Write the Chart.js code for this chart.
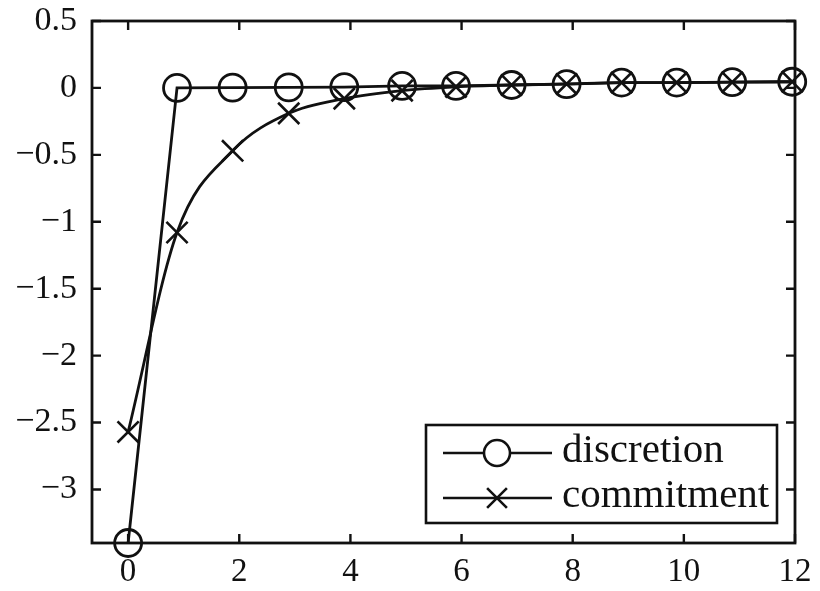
<!DOCTYPE html>
<html>
<head>
<meta charset="utf-8">
<script src="https://cdn.jsdelivr.net/npm/chart.js@4.4.1/dist/chart.umd.min.js"></script>
<style>
html,body{margin:0;padding:0;background:#fff;}
#wrap{width:820px;height:591px;position:relative;}
</style>
</head>
<body>
<div id="wrap"><canvas id="c" width="820" height="591"></canvas></div>
<script>
// ---- data ----
const periodsX = [0, 0.88, 1.88, 2.89, 3.89, 4.93, 5.9, 6.9, 7.89, 8.88, 9.87, 10.87, 11.95];
const discretion = [-3.4, 0.0, 0.002, 0.004, 0.006, 0.015, 0.015, 0.022, 0.028, 0.04, 0.04, 0.043, 0.046];
const commitment = [-2.57, -1.08, -0.47, -0.19, -0.08, -0.02, 0.008, 0.022, 0.03, 0.04, 0.04, 0.043, 0.046];
const xTicks = [0, 2, 4, 6, 8, 10, 12];
const yTicks = [0.5, 0, -0.5, -1, -1.5, -2, -2.5, -3];
const seriesNames = ['discretion', 'commitment'];

const INK = '#111111';
const SERIF = '"Liberation Serif", "DejaVu Serif", serif';

const toPts = (xs, ys) => xs.map((x, i) => ({x: x, y: ys[i]}));

const framePlugin = {
  id: 'frame',
  beforeDatasetsDraw(chart) {
    const {ctx, chartArea: a, scales} = chart;
    ctx.save();
    ctx.strokeStyle = INK;
    ctx.lineWidth = 2.8;
    ctx.strokeRect(a.left, a.top, a.right - a.left, a.bottom - a.top);
    const tl = 9;
    ctx.lineWidth = 2.4;
    ctx.beginPath();
    xTicks.forEach(v => {
      const px = scales.x.getPixelForValue(v);
      ctx.moveTo(px, a.bottom); ctx.lineTo(px, a.bottom - tl);
      ctx.moveTo(px, a.top); ctx.lineTo(px, a.top + tl);
    });
    yTicks.forEach(v => {
      const py = scales.y.getPixelForValue(v);
      ctx.moveTo(a.left, py); ctx.lineTo(a.left + tl, py);
      ctx.moveTo(a.right, py); ctx.lineTo(a.right - tl, py);
    });
    ctx.stroke();
    ctx.restore();
  }
};

const legendPlugin = {
  id: 'boxLegend',
  afterDatasetsDraw(chart) {
    const ctx = chart.ctx;
    const L = 426, T = 425, R = 777, B = 523;
    ctx.save();
    ctx.fillStyle = '#fff';
    ctx.fillRect(L, T, R - L, B - T);
    ctx.strokeStyle = INK;
    ctx.lineWidth = 2.6;
    ctx.strokeRect(L, T, R - L, B - T);
    const rows = [453, 498];
    chart.data.datasets.forEach((ds, i) => {
      const y = rows[i];
      ctx.strokeStyle = INK;
      ctx.lineWidth = 2.6;
      ctx.beginPath();
      ctx.moveTo(443, y); ctx.lineTo(552, y);
      ctx.stroke();
      Chart.helpers.drawPoint(ctx, {
        pointStyle: ds.pointStyle,
        radius: i === 0 ? 13 : 14,
        borderWidth: 2.6
      }, 497, y);
      ctx.fillStyle = INK;
      ctx.font = '41px ' + SERIF;
      ctx.textAlign = 'left';
      ctx.textBaseline = 'middle';
      ctx.fillText(ds.label, 562, y - 2);
    });
    ctx.restore();
  }
};

const fmt = v => String(v).replace('-', '\u2212');

new Chart(document.getElementById('c'), {
  type: 'scatter',
  data: {
    datasets: [
      {
        label: seriesNames[0],
        data: toPts(periodsX, discretion),
        showLine: true,
        borderColor: INK,
        borderWidth: 2.8,
        pointStyle: 'circle',
        pointRadius: 13.5,
        pointBorderWidth: 2.8,
        pointBorderColor: INK,
        pointBackgroundColor: 'rgba(0,0,0,0)',
        tension: 0,
        clip: false
      },
      {
        label: seriesNames[1],
        data: toPts(periodsX, commitment),
        showLine: true,
        borderColor: INK,
        borderWidth: 2.8,
        pointStyle: 'crossRot',
        pointRadius: 15,
        pointBorderWidth: 2.6,
        pointBorderColor: INK,
        pointBackgroundColor: 'rgba(0,0,0,0)',
        cubicInterpolationMode: 'monotone',
        clip: false
      }
    ]
  },
  options: {
    responsive: false,
    animation: false,
    events: [],
    layout: {padding: {top: 21, right: 25, left: 0, bottom: 0}},
    plugins: {legend: {display: false}, tooltip: {enabled: false}},
    scales: {
      x: {
        type: 'linear',
        min: -0.65,
        max: 12,
        grid: {display: false, drawTicks: false},
        border: {display: false},
        afterBuildTicks: s => { s.ticks = xTicks.map(v => ({value: v})); },
        afterFit: s => { s.height = 48; s.paddingLeft = 0; s.paddingRight = 0; },
        ticks: {
          color: INK,
          padding: 10,
          maxRotation: 0,
          autoSkip: false,
          font: {family: SERIF, size: 33},
          callback: v => fmt(v)
        }
      },
      y: {
        type: 'linear',
        min: -3.4,
        max: 0.5,
        grid: {display: false, drawTicks: false},
        border: {display: false},
        afterBuildTicks: s => { s.ticks = yTicks.map(v => ({value: v})); },
        afterFit: s => { s.width = 92; s.paddingTop = 0; s.paddingBottom = 0; },
        ticks: {
          color: INK,
          padding: 15,
          autoSkip: false,
          font: {family: SERIF, size: 34},
          callback: v => fmt(v)
        }
      }
    }
  },
  plugins: [framePlugin, legendPlugin]
});
</script>
</body>
</html>
